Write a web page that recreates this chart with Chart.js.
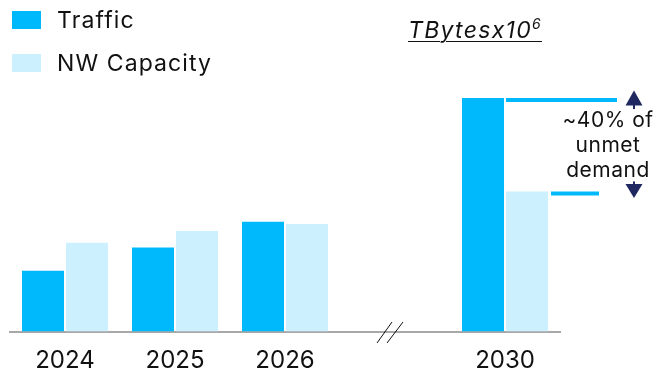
<!DOCTYPE html>
<html lang="en">
<head>
  <meta charset="UTF-8">
  <title>Traffic vs NW Capacity</title>
  <script src="https://cdn.jsdelivr.net/npm/chart.js@4.4.1/dist/chart.umd.min.js"></script>
  <style>
    body {
      margin: 0;
      background: #ffffff;
      font-family: 'Inter', sans-serif;
      color: #111111;
    }

    #wrap {
      position: relative;
      width: 657px;
      height: 371px;
    }

    .legend-item {
      position: absolute;
      left: 12px;
      display: flex;
      align-items: center;
      font-size: 23px;
      line-height: 26px;
      letter-spacing: 1.1px;
    }

    .legend-item .box {
      width: 29px;
      height: 18px;
      margin-right: 16px;
    }

    #unit {
      position: absolute;
      left: 408px;
      top: 15px;
      font-size: 23px;
      font-style: italic;
      letter-spacing: 1.3px;
      text-decoration: underline;
      text-underline-offset: 3px;
      text-decoration-thickness: 1px;
    }

    #unit sup {
      font-size: 14px;
    }

    #note {
      position: absolute;
      left: 558px;
      top: 107px;
      width: 100px;
      text-align: center;
      font-size: 21px;
      line-height: 25px;
      letter-spacing: 0.5px;
    }
  </style>
</head>
<body>

  <div id="wrap">
    <canvas id="chart" width="657" height="371"></canvas>

    <div class="legend-item" style="top: 7px;"><span class="box" style="background:#00B9FC"></span>Traffic</div>
    <div class="legend-item" style="top: 49.5px;"><span class="box" style="background:#CCF0FD"></span>NW Capacity</div>

    <div id="unit">TBytesx10<sup>6</sup></div>
    <div id="note">~40% of<br>unmet<br>demand</div>
  </div>

  <script>
    // Anos (categoria vazia = quebra de eixo entre 2026 e 2030)
    const years = ['2024', '2025', '2026', '', '2030'];
    // TBytes x10^6
    const traffic = [2.6, 3.6, 4.7, null, 10.0];
    const capacity = [3.8, 4.3, 4.6, null, 6.0];

    const trafficColor = '#00B9FC';
    const capacityColor = '#CCF0FD';
    const arrowColor = '#1F2860';

    // Linhas de referência, setas e marca de quebra "//"
    const gapPlugin = {
      id: 'gapPlugin',
      afterDatasetsDraw(chart) {
        const ctx = chart.ctx;
        const x = chart.scales.x;
        const y = chart.scales.y;
        const last = years.length - 1;

        const tBar = chart.getDatasetMeta(0).data[last];
        const cBar = chart.getDatasetMeta(1).data[last];
        const tY = y.getPixelForValue(traffic[last]) + 2;
        const cY = y.getPixelForValue(capacity[last]) + 2;

        ctx.save();
        ctx.strokeStyle = trafficColor;
        ctx.lineWidth = 4;
        ctx.beginPath();
        ctx.moveTo(tBar.x + tBar.width / 2 + 2, tY);
        ctx.lineTo(617, tY);
        ctx.moveTo(cBar.x + cBar.width / 2 + 3, cY);
        ctx.lineTo(599, cY);
        ctx.stroke();

        // setas
        const ax = 634;
        ctx.fillStyle = arrowColor;
        ctx.beginPath();
        ctx.moveTo(ax, tY - 9.5);
        ctx.lineTo(ax + 8.5, tY + 5.5);
        ctx.lineTo(ax - 8.5, tY + 5.5);
        ctx.closePath();
        ctx.fill();
        ctx.fillRect(ax - 1, tY + 5, 2, 4);

        ctx.beginPath();
        ctx.moveTo(ax, cY + 4.5);
        ctx.lineTo(ax + 8.5, cY - 9.5);
        ctx.lineTo(ax - 8.5, cY - 9.5);
        ctx.closePath();
        ctx.fill();
        ctx.fillRect(ax - 1, cY - 12, 2, 3);

        // quebra do eixo
        const bx = x.getPixelForValue(3);
        const by = chart.chartArea.bottom;
        ctx.strokeStyle = '#111111';
        ctx.lineWidth = 1;
        ctx.beginPath();
        ctx.moveTo(bx - 18, by + 11.5);
        ctx.lineTo(bx - 3, by - 9.5);
        ctx.moveTo(bx - 8, by + 11.5);
        ctx.lineTo(bx + 8, by - 9.5);
        ctx.stroke();
        ctx.restore();
      }
    };

    const ctx = document.getElementById('chart').getContext('2d');
    const chart = new Chart(ctx, {
      type: 'bar',
      data: {
        labels: years,
        datasets: [
          {
            label: 'Traffic',
            data: traffic,
            backgroundColor: trafficColor,
            categoryPercentage: 0.8,
            barPercentage: 0.955
          },
          {
            label: 'NW Capacity',
            data: capacity,
            backgroundColor: capacityColor,
            categoryPercentage: 0.8,
            barPercentage: 0.955
          }
        ]
      },
      options: {
        responsive: false,
        animation: false,
        devicePixelRatio: 1,
        layout: {
          padding: { left: 10, right: 97, top: 81, bottom: 0 }
        },
        plugins: {
          legend: { display: false },
          tooltip: { enabled: false }
        },
        scales: {
          x: {
            grid: { display: false, drawTicks: false },
            border: { display: true, color: '#A8A8A8', width: 2 },
            ticks: {
              color: '#111111',
              padding: 17.5,
              font: { family: 'Inter', size: 24, lineHeight: 1 }
            },
            // altura fixa do eixo para a base ficar em y ~331
            afterFit(scale) {
              scale.height = 39.5;
            }
          },
          y: {
            display: false,
            min: 0,
            max: 10.73
          }
        }
      },
      plugins: [gapPlugin]
    });
  </script>

</body>
</html>
